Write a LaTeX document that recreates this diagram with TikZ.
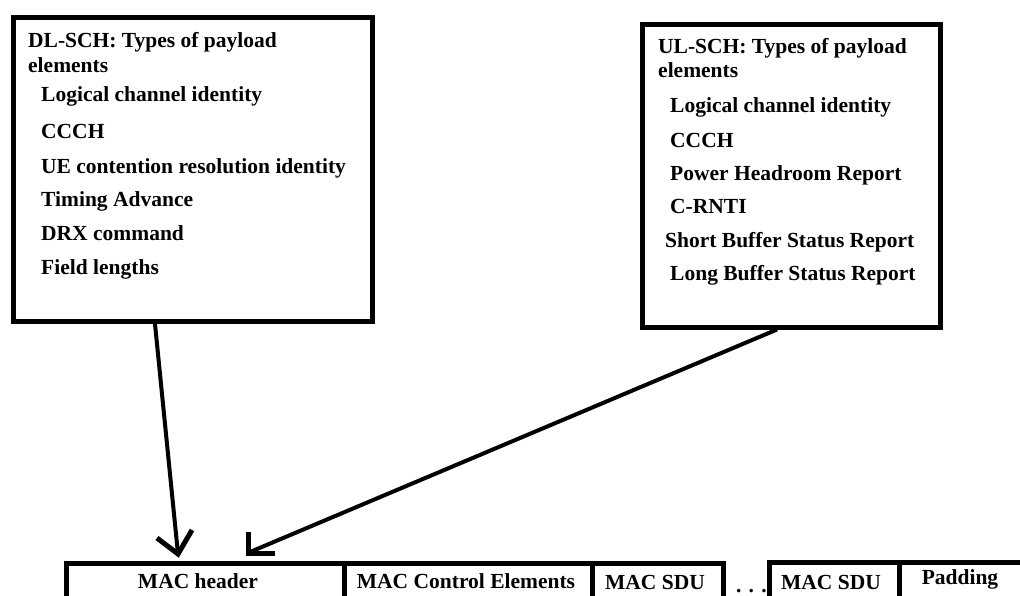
\documentclass[tikz,border=0pt]{standalone}
\usepackage{fontspec}
\setmainfont{Liberation Serif}
\begin{document}
\begin{tikzpicture}[x=1pt,y=-1pt,
  txt/.style={font=\fontsize{21.5}{26}\selectfont\bfseries, inner sep=0pt, anchor=base west},
  celltxt/.style={font=\fontsize{21.5}{26}\selectfont\bfseries, inner sep=0pt, anchor=base},
  frame/.style={draw=black, line width=5pt, rectangle, inner sep=0pt},
  cell/.style={draw=black, line width=5pt, rectangle, inner sep=0pt, anchor=north west, minimum height=70pt},
  conn/.style={draw=black, line width=4pt},
  barb/.style={draw=black, line width=5pt, line cap=butt, line join=miter}]
\useasboundingbox (0,0) rectangle (1020,595);
\clip (0,0) rectangle (1020,595);
\fill[white] (0,0) rectangle (1020,595);

% DL-SCH box
\node[frame, minimum width=359.5pt, minimum height=304pt] (dl) at (192.75,169.5) {};
\node[txt] (dlt1) at (28,47) {DL-SCH: Types of payload};
\node[txt] (dlt2) at (28,72) {elements};
\node[txt] (dl1) at (41,101) {Logical channel identity};
\node[txt] (dl2) at (41,138) {CCCH};
\node[txt] (dl3) at (41,173) {UE contention resolution identity};
\node[txt] (dl4) at (41,206) {Timing Advance};
\node[txt] (dl5) at (41,240) {DRX command};
\node[txt] (dl6) at (41,274) {Field lengths};

% UL-SCH box
\node[frame, minimum width=297.5pt, minimum height=302.5pt] (ul) at (791.25,175.75) {};
\node[txt] (ult1) at (658,53) {UL-SCH: Types of payload};
\node[txt] (ult2) at (658,77) {elements};
\node[txt] (ul1) at (670,112) {Logical channel identity};
\node[txt] (ul2) at (670,147) {CCCH};
\node[txt] (ul3) at (670,180) {Power Headroom Report};
\node[txt] (ul4) at (670,213) {C-RNTI};
\node[txt] (ul5) at (665,247) {Short Buffer Status Report};
\node[txt] (ul6) at (670,280) {Long Buffer Status Report};

% MAC PDU row
\node[cell, minimum width=278pt] (machdr) at (64,561) {};
\node[cell, minimum width=248pt] (macce) at (342,561) {};
\node[cell, minimum width=131pt] (macsdu) at (590,561) {};
\node[cell, minimum width=130pt] (sdutwo) at (767,559.5) {};
\node[cell, minimum width=140pt] (pad) at (897,559.5) {};
\node[celltxt] (lhdr) at (198,588) {MAC header};
\node[celltxt] (lce) at (466,588) {MAC Control Elements};
\node[celltxt] (lsdu) at (655,589) {MAC SDU};
\node[celltxt] (lsdutwo) at (831,589) {MAC SDU};
\node[celltxt] (lpad) at (960,584) {Padding};
\node[txt] (dots) at (736,592) {. . .};

% connectors
\coordinate (dlout) at ([xshift=-37.75pt]dl.south);
\coordinate (ulout) at ([xshift=-14.25pt]ul.south);
\coordinate (dltip) at ([shift={(114,-7)}]machdr.north west);
\coordinate (ultip) at ([shift={(184,-8)}]machdr.north west);
\draw[conn] (dlout) -- (dltip);
\draw[barb] ([shift={(-21,-16)}]dltip) -- (dltip) -- ([shift={(14,-24)}]dltip);
\draw[conn] (ulout) -- ([shift={(2,-1)}]ultip);
\draw[barb] ([shift={(0,-21)}]ultip) -- (ultip) -- ([shift={(27,0)}]ultip);
\end{tikzpicture}
\end{document}
